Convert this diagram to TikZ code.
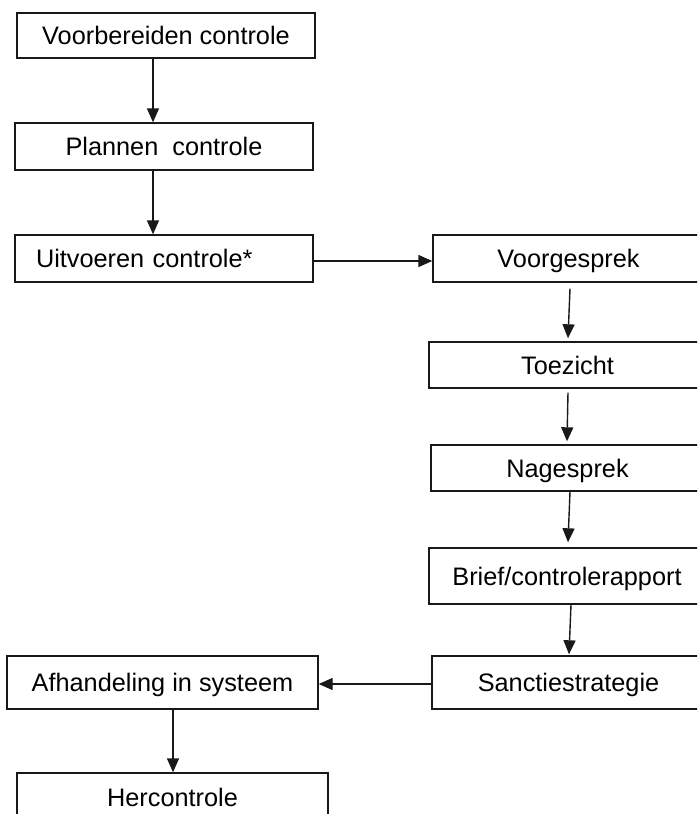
\documentclass[tikz,border=0pt]{standalone}
\usepackage{fontspec}
\setmainfont{Liberation Sans}
\usetikzlibrary{arrows.meta}
\begin{document}
\begin{tikzpicture}[x=1pt,y=-1pt,
  stepbox/.style={draw=black!90, line width=1.4pt, rectangle, inner sep=0pt,
    font=\fontsize{25.3}{30}\selectfont, text height=18pt, text depth=0pt},
  flow/.style={draw=black!90, line width=1.4pt, -{Triangle[length=14pt,width=12pt]}}]
\useasboundingbox (0,0) rectangle (697,814);
\begin{scope}
\clip (0,0) rectangle (697,814);
\node[stepbox, minimum width=298pt, minimum height=45pt] (b1) at (166,35.5) {Voorbereiden controle};
\node[stepbox, minimum width=298pt, minimum height=47pt] (b2) at (164,146.5) {Plannen\ \ controle};
\node[stepbox, minimum width=298pt, minimum height=47pt, text width=256pt, align=left, inner xsep=21pt] (b3) at (164,258.5) {Uitvoeren controle*};
\node[stepbox, minimum width=271pt, minimum height=47pt] (b4) at (568.5,258.5) {Voorgesprek};
\node[stepbox, minimum width=277pt, minimum height=46pt] (b5) at (567.5,365) {Toezicht};
\node[stepbox, minimum width=273pt, minimum height=46pt] (b6) at (567.5,468) {Nagesprek};
\node[stepbox, minimum width=276pt, minimum height=56pt] (b7) at (567,576) {Brief/controlerapport};
\node[stepbox, minimum width=273pt, minimum height=53pt] (b8) at (568.5,682.5) {Sanctiestrategie};
\node[stepbox, minimum width=311pt, minimum height=53pt] (b9) at (162.5,682.5) {Afhandeling in systeem};
\node[stepbox, minimum width=311pt, minimum height=49pt] (b10) at (172.5,797.5) {Hercontrole};
\end{scope}
\draw[flow] ([xshift=-13pt]b1.south) -- ([xshift=-11pt]b2.north);
\draw[flow] ([xshift=-11pt]b2.south) -- ([xshift=-11pt]b3.north);
\draw[flow] ([yshift=-2.5pt]b3.east) -- ([yshift=-2.5pt]b4.west);
\draw[flow] ([xshift=1.5pt,yshift=-6pt]b4.south) -- ([xshift=0.5pt,yshift=3pt]b5.north);
\draw[flow] ([xshift=0.5pt,yshift=-4pt]b5.south) -- ([xshift=-0.5pt,yshift=3pt]b6.north);
\draw[flow] ([xshift=2.5pt]b6.south) -- ([xshift=1pt,yshift=5pt]b7.north);
\draw[flow] ([xshift=4pt]b7.south) -- ([xshift=0.5pt,yshift=1pt]b8.north);
\draw[flow] ([yshift=-1.5pt]b8.west) -- ([yshift=-1.5pt]b9.east);
\draw[flow] ([xshift=10.5pt]b9.south) -- ([xshift=0.5pt]b10.north);
\end{tikzpicture}
\end{document}
